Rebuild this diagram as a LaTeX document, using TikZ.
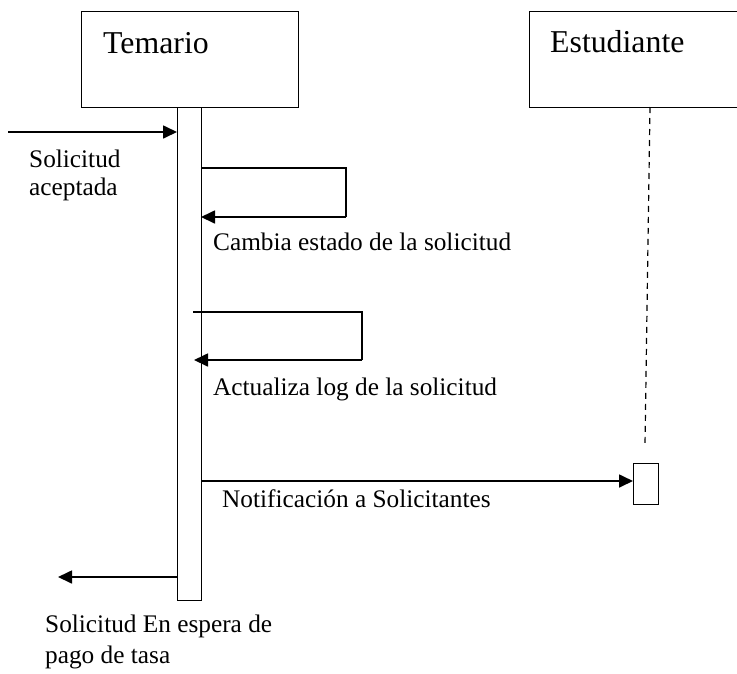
\documentclass[tikz,border=0pt]{standalone}
\usepackage{fontspec}
\setmainfont{Liberation Serif}
\usetikzlibrary{arrows.meta}
\begin{document}
\begin{tikzpicture}[x=1pt,y=-1pt,
  box/.style={draw,line width=1.2pt,inner sep=0pt,anchor=north west},
  title/.style={anchor=base west,inner sep=0pt,font=\fontsize{31.8}{36}\selectfont},
  lbl/.style={anchor=base west,inner sep=0pt,align=left,font=\fontsize{25.3}{28}\selectfont},
  thin/.style={line width=1.2pt},
  msg/.style={line width=1.7pt,-{Triangle[length=14pt,width=13pt]}}]
\useasboundingbox (0,0) rectangle (737,673);
\clip (0,0) rectangle (737,673);
% lifeline heads
\node[box,minimum width=217pt,minimum height=96pt] (tem) at (81,11) {};
\node[title] (temt) at (103,53) {Temario};
\node[box,minimum width=220pt,minimum height=96pt] (est) at (529,11) {};
\node[title] (estt) at (550,52) {Estudiante};
% activation bars
\node[box,minimum width=24pt,minimum height=493pt] (bar) at (177,107) {};
\node[box,minimum width=25pt,minimum height=41pt] (ebar) at (633,463) {};
% dashed lifeline
\coordinate (ltop) at (650,107);
\coordinate (lbot) at (645,445);
\draw[line width=1.2pt,dash pattern=on 6pt off 5pt] (ltop) -- (lbot);
% incoming message
\coordinate (in1) at (8,132);
\draw[msg] (in1) -- (in1 -| bar.west);
\node[lbl] (l1) at (29,195) {Solicitud\\aceptada};
% self loop 1
\coordinate (a1) at (201,168);
\coordinate (a2) at (346,168);
\coordinate (a3) at (346,217);
\coordinate (a4) at (201,217);
\draw[thin] (a1) -- (a2) -- (a3);
\draw[msg] (a3) -- (a4);
\node[lbl] (l2) at (213,250) {Cambia estado de la solicitud};
% self loop 2
\coordinate (b1) at (193,312);
\coordinate (b2) at (362,312);
\coordinate (b3) at (362,360);
\coordinate (b4) at (194,360);
\draw[thin] (b1) -- (b2) -- (b3);
\draw[msg] (b3) -- (b4);
\node[lbl] (l3) at (213,395) {Actualiza log de la solicitud};
% notification
\coordinate (n1) at (201,481);
\draw[msg] (n1) -- (n1 -| ebar.west);
\node[lbl] (l4) at (222,507) {Notificación a Solicitantes};
% return
\coordinate (r1) at (58,577);
\draw[msg] (r1 -| bar.west) -- (r1);
\node[lbl,font=\fontsize{25.3}{31}\selectfont] (l5) at (45,663) {Solicitud En espera de\\pago de tasa};
\end{tikzpicture}
\end{document}
